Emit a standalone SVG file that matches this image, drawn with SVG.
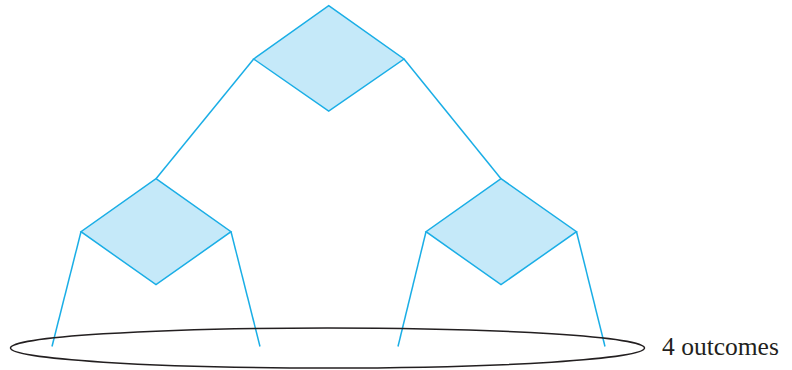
<svg xmlns="http://www.w3.org/2000/svg" width="792" height="370" viewBox="0 0 792 370">
<style>
.d{fill:#c5e9f9;stroke:#1aaee6;stroke-width:1.5;stroke-linejoin:miter}
.c{fill:none;stroke:#1aaee6;stroke-width:1.5}
.t{font-family:"Liberation Serif","Times New Roman",serif;font-size:25.5px;fill:#231f20}
</style>
<rect width="792" height="370" fill="#fff"/>
<g id="connectors">
<line class="c" x1="253.7" y1="59" x2="156" y2="178.7"/>
<line class="c" x1="404" y1="59" x2="501" y2="178.7"/>
<line class="c" x1="81" y1="231.7" x2="52" y2="346.5"/>
<line class="c" x1="231" y1="231.7" x2="260" y2="346.5"/>
<line class="c" x1="426" y1="231.7" x2="398" y2="346.5"/>
<line class="c" x1="576.5" y1="231.7" x2="605" y2="346.5"/>
</g>
<g id="top"><polygon class="d" points="328.7,5.7 404,59 328.7,111 253.7,59"/></g>
<g id="left"><polygon class="d" points="156,178.7 231,231.7 156,284.7 81,231.7"/></g>
<g id="right"><polygon class="d" points="501,178.7 576.5,231.7 501,284.7 426,231.7"/></g>
<g id="outcomes">
<ellipse cx="327.5" cy="348" rx="317" ry="20" fill="none" stroke="#231f20" stroke-width="1.5"/>
<text class="t" x="662" y="355">4 outcomes</text>
</g>
</svg>
